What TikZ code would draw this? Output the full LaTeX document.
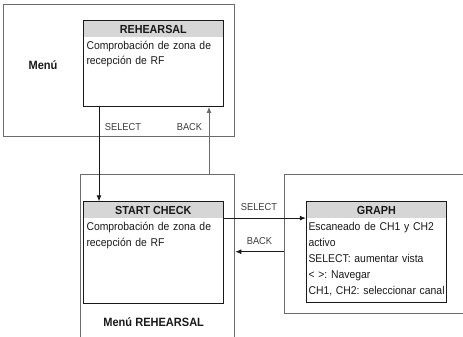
\documentclass[tikz,border=0pt]{standalone}
\usepackage{fontspec}
\setmainfont{Liberation Sans}[FakeStretch=0.92]
\usetikzlibrary{arrows.meta,calc,positioning}
\frenchspacing
\definecolor{framegray}{gray}{0.42}
\definecolor{headgray}{gray}{0.84}
\definecolor{inkdark}{gray}{0.1}
\tikzset{
  frame/.style={draw=framegray,line width=1pt,rectangle,inner sep=0pt},
  screen/.style={draw=inkdark,line width=0.9pt,rectangle,inner sep=0pt,anchor=north,minimum width=140pt},
  head/.style={fill=headgray,inner sep=0pt,anchor=north,minimum width=140pt,minimum height=16.4pt,
    text height=10pt,text depth=0pt,font=\fontsize{11.7}{14}\selectfont\bfseries,text=inkdark},
  body/.style={anchor=base west,inner sep=0pt,text width=170pt,align=left,text=inkdark,
    font=\fontsize{11.3}{16}\selectfont},
  lbl/.style={anchor=base,inner sep=0pt,text=inkdark!85,font=\fontsize{10.1}{12}\selectfont},
  title/.style={anchor=base,inner sep=0pt,text=inkdark,font=\fontsize{12}{14}\selectfont\bfseries},
  arr/.style={draw=inkdark,line width=0.9pt,-{Latex[length=6pt,width=5pt]}},
}
\begin{document}
\begin{tikzpicture}[x=1pt,y=-1pt]
  \clip (0,0) rectangle (463,337);
  % menu levels
  \node[frame,minimum width=231pt,minimum height=131.3pt] (mfr) at (118.8,70.35) {};
  \node[frame,minimum width=154.3pt,minimum height=200pt,anchor=north west] (rfr) at (80,174.3) {};
  \node[frame,minimum width=200pt,minimum height=139pt,anchor=north west] (gfr) at (284,174.3) {};
  \node[title] (mlbl) at (43,70) {Menú};
  \node[title] (rlbl) at (153.7,326) {Menú REHEARSAL};
  % screens
  \node[head] (rehhead) at (153.3,20) {REHEARSAL};
  \node[screen,minimum height=86pt] (reh) at (rehhead.north) {};
  \node[body] (rehtxt) at (86.3,49) {Comprobación de zona de\\recepción de RF};
  \node[head] (chkhead) at (153.3,201.3) {START CHECK};
  \node[screen,minimum height=101.4pt] (chk) at (chkhead.north) {};
  \node[body] (chktxt) at (86.3,230.7) {Comprobación de zona de\\recepción de RF};
  \node[head,minimum width=140.7pt] (grhead) at (376.4,201.3) {GRAPH};
  \node[screen,minimum width=140.7pt,minimum height=100.7pt] (gr) at (grhead.north) {};
  \node[body] (grtxt) at (308.3,230.7) {Escaneado de CH1 y CH2\\activo\\SELECT: aumentar vista\\%
    < >: Navegar\\CH1, CH2: seleccionar canal};
  % transitions
  \coordinate (sx) at (99,0);
  \coordinate (bx) at (209,0);
  \coordinate (by) at (0,251.7);
  \draw[arr] (sx |- reh.south) -- (sx |- chkhead.north);
  \draw[arr,draw=framegray] (bx |- rfr.north) -- (bx |- reh.south);
  \draw[arr] (chkhead.south east) -- (grhead.south west);
  \draw[arr] (by -| gfr.west) -- (by -| rfr.east);
  \node[lbl] (sel1) at (123,130) {SELECT};
  \node[lbl] (back1) at (189.5,130) {BACK};
  \node[lbl] (sel2) at (259,210) {SELECT};
  \node[lbl] (back2) at (259.5,244) {BACK};
\end{tikzpicture}
\end{document}
